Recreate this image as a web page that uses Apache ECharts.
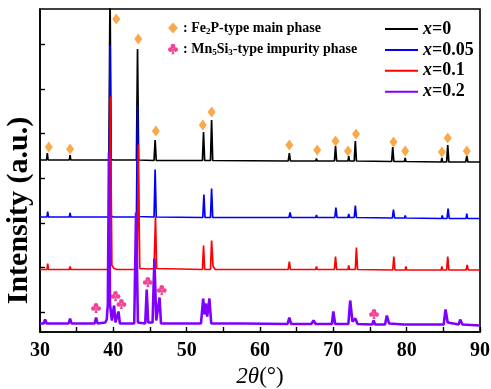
<!DOCTYPE html>
<html>
<head>
<meta charset="utf-8">
<script src="https://cdn.jsdelivr.net/npm/echarts@6/dist/echarts.min.js"></script>
<style>html,body{margin:0;padding:0;background:#fff}#c{width:491px;height:389px}</style>
</head>
<body>
<div id="c"></div>
<script>
// ---- data (2θ in degrees, intensity in a.u. above each pattern's own baseline) ----
const seriesNames = ['x=0', 'x=0.05', 'x=0.1', 'x=0.2'];
const offsets = [171, 114.5, 62.5, 7.5];   // vertical stacking offsets (a.u.)

const patternX0 = [
  [30,1],[30.9,1],[31.0,8],[31.1,1],[34.0,1],[34.1,6],[34.2,1],[39.4,1],[39.55,176],[39.7,1.5],[40.0,1],
  [43.15,1],[43.3,112],[43.45,1],[45.55,0.5],[45.7,21],[45.85,0.5],[52.15,0.5],[52.3,29],[52.45,0.5],
  [53.25,0.5],[53.4,41],[53.55,0.5],[63.85,0],[64.0,8],[64.15,0],[67.6,0],[67.7,2.5],[67.8,0],
  [70.15,0],[70.3,15],[70.45,0],[72.0,0],[72.1,5],[72.2,0],[72.85,0],[73.0,20],[73.15,0],
  [77.95,-0.5],[78.1,14],[78.25,-0.5],[79.7,-0.5],[79.8,3],[79.9,-0.5],[84.7,-1],[84.8,3],[84.9,-1],
  [85.45,-1],[85.6,16],[85.75,-1],[88.05,-1],[88.2,5],[88.35,-1],[90,-1]
];
const patternX005 = [
  [30,0.5],[30.95,0.5],[31.05,6],[31.15,0.5],[34.0,0.5],[34.1,4.5],[34.2,0.5],[39.4,0.5],[39.55,172],[39.7,1.5],[40.0,0.5],
  [43.15,0.5],[43.3,112],[43.45,1],[45.55,0.5],[45.7,48],[45.85,0.5],[52.2,0],[52.35,23],[52.5,0],
  [53.25,0],[53.4,29],[53.55,0],[63.95,0],[64.1,5],[64.25,0],[67.6,0],[67.7,2.5],[67.8,0],
  [70.2,0],[70.35,10],[70.5,0],[72.0,0],[72.1,3.5],[72.2,0],[72.85,0],[73.0,12],[73.15,0],
  [78.05,-0.5],[78.2,8],[78.35,-0.5],[79.7,-0.5],[79.8,2],[79.9,-0.5],[84.75,-1],[84.85,2],[84.95,-1],
  [85.5,-1],[85.65,9],[85.8,-1],[88.1,-1],[88.2,4],[88.3,-1],[90,-1]
];
const patternX01 = [
  [30,0],[30.95,0],[31.05,6],[31.15,0],[34.0,0],[34.1,3],[34.2,0],[39.45,0],[39.6,173],[39.8,4],[40.1,1],[40.5,0],
  [43.25,0],[43.4,125],[43.6,1],[44.9,0.5],[45.1,2],[45.55,1],[45.75,53],[45.9,1],[52.15,0],[52.3,24],[52.45,0],
  [53.25,0],[53.4,29],[53.6,3],[53.75,5],[53.9,0],[63.85,0],[64.0,8],[64.15,0],[67.6,0],[67.7,3],[67.8,0],
  [70.15,0],[70.3,13],[70.45,0],[72.0,0],[72.1,4],[72.2,0],[73.0,0],[73.15,22],[73.3,0],
  [78.1,-0.5],[78.25,13],[78.4,-0.5],[79.8,-0.5],[79.9,3],[80.0,-0.5],[84.7,-0.5],[84.8,3],[84.9,-0.5],
  [85.45,-0.5],[85.6,13],[85.75,-0.5],[88.1,-0.5],[88.25,4.5],[88.4,-0.5],[90,-0.5]
];
const patternX02 = [
  [30,1],[30.5,1],[30.7,5],[30.9,1],[31.8,1],[32.0,3],[32.2,1],[33.9,1],[34.1,6],[34.3,1],[37.45,1],[37.65,7],[37.85,1],
  [38.9,2],[39.1,5],[39.25,20],[39.4,172],[39.55,20],[39.8,4],[39.95,2],[40.1,19],[40.3,2],[40.5,2],[40.7,13],[40.9,1],
  [42.85,1],[43.1,112],[43.35,2],[44.35,1],[44.55,35],[44.75,2],[45.35,2],[45.6,66],[45.85,4],[46.1,3],[46.3,27],[46.5,1],
  [51.95,1],[52.25,26],[52.45,10],[52.6,21],[52.8,8],[53.1,26],[53.35,1],[57.3,1],[57.5,3],[57.7,1],
  [63.75,0.5],[64.0,7],[64.25,0.5],[67.0,0.5],[67.3,4],[67.6,0.5],[69.8,0.5],[70.0,13],[70.25,0.5],
  [72.05,0.5],[72.3,24],[72.6,3],[73.0,6],[73.3,0.5],[75.3,0],[75.5,4],[75.7,0],[77.05,0],[77.3,9],[77.6,1],
  [79.6,0],[79.8,2],[80.0,0],[85.05,0],[85.3,15],[85.6,2],[87.1,0],[87.3,5],[87.6,0],[90,-1]
];
const patterns = [patternX0, patternX005, patternX01, patternX02];
const lineColors = ['#000000', '#0000FF', '#FF0000', '#7F00FF'];

// peak markers: [2θ, vertical position (a.u.)]
const fe2pMarks = [
  [31.2,185],[34.1,183],[40.4,313],[43.4,293],[45.8,201],[52.2,207],[53.4,220],[64.0,187],[67.8,182],
  [70.3,191],[72.0,181],[73.1,198],[78.2,190],[79.8,181],[84.8,180],[85.6,194],[88.2,181]
];
const mn5si3Marks = [[37.64,24],[40.3,36],[41.1,28],[44.7,50],[46.6,42],[75.55,18]];

const xTicks = [30, 40, 50, 60, 70, 80, 90];
const yTickValues = [20, 64.6, 109.2, 153.8, 198.4, 243, 287.6];

const FONT = "'Liberation Serif','Times New Roman',serif";
const clubPath = 'path://M50,6 A21,21 0 1 1 49.9,6 Z M27,36 A21,21 0 1 1 26.9,36 Z M73,36 A21,21 0 1 1 72.9,36 Z M50,50 L63,98 L37,98 Z';

const lineSeries = seriesNames.map((n, i) => ({
  name: n,
  type: 'line',
  data: patterns[i].map(p => [p[0], p[1] + offsets[i]]),
  symbol: 'none',
  showSymbol: false,
  clip: true,
  z: 2 + i,
  lineStyle: { color: lineColors[i], width: i === 3 ? 2.6 : 1.7 },
  itemStyle: { color: lineColors[i] }
}));

const chart = echarts.init(document.getElementById('c'), null, { renderer: 'canvas' });
chart.setOption({
  animation: false,
  backgroundColor: '#fff',
  grid: { left: 40, right: 11, top: 9, bottom: 57, show: true, borderColor: '#000', borderWidth: 1.6, outerBoundsMode: 'none' },
  legend: [
    {
      data: seriesNames,
      orient: 'vertical',
      left: 385, top: 20, padding: 0,
      icon: 'rect', itemWidth: 33, itemHeight: 2, itemGap: 2.9,
      textStyle: {
        fontFamily: FONT, fontWeight: 'bold', fontSize: 18, lineHeight: 18, color: '#000',
        rich: { i: { fontFamily: FONT, fontWeight: 'bold', fontStyle: 'italic', fontSize: 18, lineHeight: 18, color: '#000' },
                r: { fontFamily: FONT, fontWeight: 'bold', fontSize: 18, lineHeight: 18, color: '#000' } }
      },
      formatter: n => '{i|x}{r|' + n.slice(1) + '}'
    },
    {
      data: [{ name: 'Fe2P', icon: 'diamond' }, { name: 'Mn5Si3', icon: clubPath }],
      orient: 'vertical',
      left: 168, top: 20, padding: 0,
      itemWidth: 10, itemHeight: 11, itemGap: 5,
      textStyle: {
        fontFamily: FONT, fontWeight: 'bold', fontSize: 14, lineHeight: 16, color: '#000',
        rich: {
          n: { fontFamily: FONT, fontWeight: 'bold', fontSize: 14, lineHeight: 16, color: '#000' },
          s: { fontFamily: FONT, fontWeight: 'bold', fontSize: 9, lineHeight: 16, verticalAlign: 'bottom', color: '#000' }
        }
      },
      formatter: n => n === 'Fe2P'
        ? '{n|: Fe}{s|2}{n|P-type main phase}'
        : '{n|: Mn}{s|5}{n|Si}{s|3}{n|-type impurity phase}'
    }
  ],
  xAxis: {
    type: 'value', min: 30, max: 90, interval: 5,
    name: '{i|2θ}(°)', nameLocation: 'middle', nameGap: 31,
    nameTextStyle: {
      fontFamily: FONT, fontSize: 23, color: '#000',
      rich: { i: { fontFamily: FONT, fontStyle: 'italic', fontSize: 23, color: '#000' } }
    },
    axisLine: { lineStyle: { color: '#000', width: 1.6 } },
    axisTick: { inside: true, length: 5, lineStyle: { color: '#000', width: 1.4 } },
    axisLabel: {
      margin: 9, color: '#000', fontFamily: FONT, fontWeight: 'bold', fontSize: 20,
      formatter: v => (xTicks.indexOf(v) >= 0 ? String(v) : '')
    },
    splitLine: { show: false }
  },
  yAxis: {
    type: 'value', min: 0, max: 323,
    name: 'Intensity (a.u.)', nameLocation: 'middle', nameGap: 6,
    nameTextStyle: { fontFamily: FONT, fontWeight: 'bold', fontSize: 30, color: '#000', padding: [0, 80, 0, 0] },
    axisLine: { lineStyle: { color: '#000', width: 1.6 } },
    axisTick: { inside: true, length: 5, customValues: yTickValues, lineStyle: { color: '#000', width: 1.4 } },
    axisLabel: { show: false },
    splitLine: { show: false }
  },
  series: lineSeries.concat([
    {
      name: 'Fe2P', type: 'scatter', data: fe2pMarks, symbol: 'diamond', symbolSize: [8, 11],
      itemStyle: { color: '#F7931E' }, z: 10
    },
    {
      name: 'Mn5Si3', type: 'scatter', data: mn5si3Marks, symbol: clubPath, symbolSize: [10, 10],
      itemStyle: { color: '#F0147A' }, z: 10
    }
  ])
});
</script>
</body>
</html>
